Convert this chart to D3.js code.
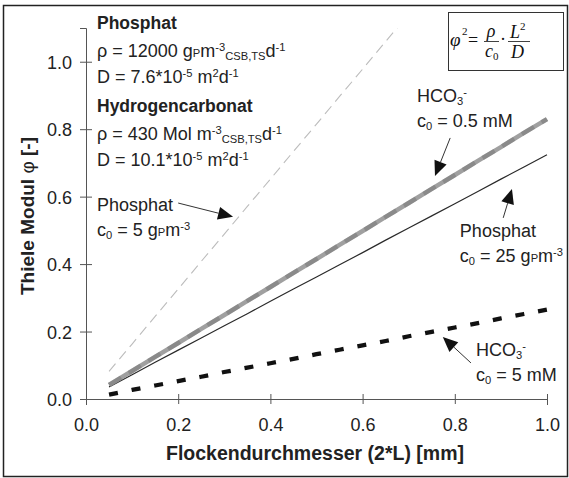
<!DOCTYPE html>
<html>
<head>
<meta charset="utf-8">
<script src="https://cdn.jsdelivr.net/npm/d3@7"></script>
<style>
  html, body { margin: 0; padding: 0; background: #fff; }
  svg { display: block; font-family: "Liberation Sans", Arial, sans-serif; }
</style>
</head>
<body>
<svg id="chart" width="569" height="478"></svg>
<script>
// Floc diameter (2*L) in mm
const diameter = [0.05, 0.10, 0.15, 0.20, 0.25, 0.30, 0.35, 0.40, 0.45, 0.50,
                  0.55, 0.60, 0.65, 0.70, 0.75, 0.80, 0.85, 0.90, 0.95, 1.00];

// Thiele modulus per case
const phosphat5 = [0.082, 0.163, 0.245, 0.326, 0.408, 0.489, 0.571, 0.652, 0.734, 0.815,
                   0.897, 0.978, 1.060, 1.141];
const hco3_05   = [0.042, 0.083, 0.125, 0.166, 0.208, 0.249, 0.291, 0.332, 0.374, 0.415,
                   0.457, 0.498, 0.540, 0.581, 0.623, 0.664, 0.706, 0.747, 0.789, 0.830];
const phosphat25 = [0.036, 0.072, 0.109, 0.145, 0.181, 0.217, 0.253, 0.290, 0.326, 0.362,
                    0.398, 0.434, 0.471, 0.507, 0.543, 0.579, 0.615, 0.652, 0.688, 0.724];
const hco3_5    = [0.013, 0.027, 0.040, 0.053, 0.066, 0.080, 0.093, 0.106, 0.119, 0.133,
                   0.146, 0.159, 0.172, 0.186, 0.199, 0.212, 0.225, 0.239, 0.252, 0.265];

const xTicks = [0, 0.2, 0.4, 0.6, 0.8, 1.0];
const yTicks = [0, 0.2, 0.4, 0.6, 0.8, 1.0];

const svg = d3.select("#chart");
const x = d3.scaleLinear().domain([0, 1]).range([86, 547]);
const y = d3.scaleLinear().domain([0, 1.1]).range([399, 28]);
const fmt = d3.format(".1f");

// outer frame
svg.append("rect").attr("x", 3.5).attr("y", 5.5).attr("width", 564).attr("height", 471)
  .attr("fill", "none").attr("stroke", "#222").attr("stroke-width", 1.5);

// clip to plotting area
svg.append("defs").append("clipPath").attr("id", "plot")
  .append("rect").attr("x", x(0)).attr("y", y(1.1)).attr("width", x(1) - x(0) + 10).attr("height", y(0) - y(1.1));

// axes
const yAxis = svg.append("g").attr("transform", `translate(${x(0)},0)`)
  .call(d3.axisLeft(y).tickValues(yTicks).tickFormat(fmt).tickSizeOuter(0).tickSize(6).tickPadding(8));
const xAxis = svg.append("g").attr("transform", `translate(0,${y(0)})`)
  .call(d3.axisBottom(x).tickValues(xTicks).tickFormat(fmt).tickSizeOuter(0).tickSize(6).tickPadding(13));
[yAxis, xAxis].forEach(g => {
  g.selectAll(".domain").attr("stroke", "#555").attr("stroke-width", 1);
  g.selectAll(".tick line").attr("stroke", "#555");
  g.selectAll(".tick text").attr("fill", "#222").style("font-size", "18px")
    .style("font-family", "'Liberation Sans', Arial, sans-serif");
});
yAxis.selectAll(".tick line").attr("x1", 6).attr("x2", -6);
yAxis.selectAll(".tick text").attr("dy", "0.36em");
xAxis.selectAll(".tick line").attr("y1", -5).attr("y2", 5);

// axis titles
svg.append("text").attr("x", 315).attr("y", 460).attr("text-anchor", "middle")
  .style("font-size", "19.5px").style("font-weight", "bold").attr("fill", "#222")
  .text("Flockendurchmesser (2*L) [mm]");
const yt = svg.append("text").attr("transform", "translate(34,216) rotate(-90)")
  .attr("text-anchor", "middle").style("font-size", "19px").style("font-weight", "bold").attr("fill", "#222");
yt.append("tspan").text("Thiele Modul  ");
yt.append("tspan").style("font-weight", "normal").text("φ");
yt.append("tspan").text(" [-]");

// series lines
const line = d3.line().x(d => x(d[0])).y(d => y(d[1]));
const pts = vals => vals.map((v, i) => [diameter[i], v]);
const plot = svg.append("g").attr("clip-path", "url(#plot)");

plot.append("path").attr("d", line(pts(phosphat5)))
  .attr("fill", "none").attr("stroke", "#bcbcbc").attr("stroke-width", 1.1).attr("stroke-dasharray", "10,6");
plot.append("path").attr("d", line(pts(phosphat25)))
  .attr("fill", "none").attr("stroke", "#2a2a2a").attr("stroke-width", 1.2);
plot.append("path").attr("d", line(pts(hco3_05)))
  .attr("fill", "none").attr("stroke", "#a0a0a0").attr("stroke-width", 4.5);
plot.append("path").attr("d", line(pts(hco3_05)))
  .attr("fill", "none").attr("stroke", "#6e6e6e").attr("stroke-width", 4.5).attr("stroke-opacity", 0.45)
  .attr("stroke-dasharray", "14,9");
plot.append("path").attr("d", line(pts(hco3_5)))
  .attr("fill", "none").attr("stroke", "#111").attr("stroke-width", 4.3).attr("stroke-dasharray", "9,14");

// helper for rich text lines
function rich(g, px, py, parts, size, weight) {
  const t = g.append("text").attr("x", px).attr("y", py).attr("fill", "#222")
    .style("font-size", size + "px").style("font-weight", weight || "normal");
  parts.forEach(p => {
    const s = typeof p === "string" ? { t: p } : p;
    const ts = t.append("tspan").text(s.t);
    if (s.sup) ts.style("font-size", (size * 0.62) + "px").attr("baseline-shift", "55%");
    if (s.sub) ts.style("font-size", (size * 0.62) + "px").attr("baseline-shift", "-25%");
    if (s.small) ts.style("font-size", (size * 0.62) + "px");
  });
  return t;
}

// parameter block
const info = svg.append("g");
rich(info, 97, 29, ["Phosphat"], 17.5, "bold");
rich(info, 97, 57, ["ρ = 12000 g", { t: "P", small: 1 }, "m", { t: "-3", sup: 1 }, { t: "CSB,TS", sub: 1 }, "d", { t: "-1", sup: 1 }], 18);
rich(info, 97, 83, ["D = 7.6*10", { t: "-5", sup: 1 }, " m", { t: "2", sup: 1 }, "d", { t: "-1", sup: 1 }], 18);
rich(info, 97, 112, ["Hydrogencarbonat"], 17.5, "bold");
rich(info, 97, 140, ["ρ = 430 Mol m", { t: "-3", sup: 1 }, { t: "CSB,TS", sub: 1 }, "d", { t: "-1", sup: 1 }], 18);
rich(info, 97, 166, ["D = 10.1*10", { t: "-5", sup: 1 }, " m", { t: "2", sup: 1 }, "d", { t: "-1", sup: 1 }], 18);

// series labels (anchored in data units)
const labels = [
  { d: 0.024, v: 0.557, rows: [["Phosphat"], ["c", { t: "0", sub: 1 }, " = 5 g", { t: "P", small: 1 }, "m", { t: "-3", sup: 1 }]] },
  { d: 0.718, v: 0.881, rows: [["HCO", { t: "3", sub: 1 }, { t: "-", sup: 1 }], ["c", { t: "0", sub: 1 }, " = 0.5 mM"]] },
  { d: 0.811, v: 0.480, rows: [["Phosphat"], ["c", { t: "0", sub: 1 }, " = 25 g", { t: "P", small: 1 }, "m", { t: "-3", sup: 1 }]] },
  { d: 0.846, v: 0.127, rows: [["HCO", { t: "3", sub: 1 }, { t: "-", sup: 1 }], ["c", { t: "0", sub: 1 }, " = 5 mM"]] }
];
const lab = svg.append("g");
labels.forEach(l => {
  l.rows.forEach((r, i) => rich(lab, x(l.d), y(l.v) + i * 25, r, 18));
});

// annotation arrows: tail -> tip in data units
const arrows = [
  { from: [0.200, 0.581], to: [0.319, 0.540] },
  { from: [0.790, 0.774], to: [0.757, 0.661] },
  { from: [0.905, 0.537], to: [0.924, 0.623] },
  { from: [0.835, 0.107], to: [0.774, 0.184] }
];
const ag = svg.append("g");
arrows.forEach(a => {
  const x1 = x(a.from[0]), y1 = y(a.from[1]), x2 = x(a.to[0]), y2 = y(a.to[1]);
  const ang = Math.atan2(y2 - y1, x2 - x1);
  const len = 15, half = 6.5;
  const bx = x2 - len * Math.cos(ang), by = y2 - len * Math.sin(ang);
  ag.append("line").attr("x1", x1).attr("y1", y1).attr("x2", bx).attr("y2", by)
    .attr("stroke", "#333").attr("stroke-width", 1);
  const p = [[x2, y2],
    [bx + half * Math.sin(ang), by - half * Math.cos(ang)],
    [bx - half * Math.sin(ang), by + half * Math.cos(ang)]];
  ag.append("polygon").attr("points", p.map(q => q.join(",")).join(" ")).attr("fill", "#111");
});

// formula box
const fb = svg.append("g").style("font-family", "'Liberation Serif', 'Times New Roman', serif")
  .style("font-style", "italic").attr("fill", "#111");
fb.append("rect").attr("x", 448.5).attr("y", 12.5).attr("width", 115).attr("height", 58)
  .attr("fill", "#fff").attr("stroke", "#333").attr("stroke-width", 1);
fb.append("text").attr("x", 450).attr("y", 46).style("font-size", "19px").text("φ");
fb.append("text").attr("x", 462).attr("y", 35).style("font-size", "11px").style("font-style", "normal").text("2");
fb.append("text").attr("x", 468).attr("y", 46).style("font-size", "18px").style("font-style", "normal").text("=");
fb.append("text").attr("x", 491).attr("y", 37).attr("text-anchor", "middle").style("font-size", "18px").text("ρ");
fb.append("line").attr("x1", 484).attr("x2", 499).attr("y1", 41.5).attr("y2", 41.5).attr("stroke", "#111").attr("stroke-width", 0.8);
const c0 = fb.append("text").attr("x", 485).attr("y", 57).style("font-size", "18px");
c0.append("tspan").text("c");
c0.append("tspan").style("font-size", "11px").style("font-style", "normal").attr("dy", 3).text("0");
fb.append("text").attr("x", 500).attr("y", 45).style("font-size", "18px").style("font-style", "normal").text("·");
const l2 = fb.append("text").attr("x", 510).attr("y", 38).style("font-size", "18px");
l2.append("tspan").text("L");
l2.append("tspan").style("font-size", "11px").style("font-style", "normal").attr("dy", -8).text("2");
fb.append("line").attr("x1", 508).attr("x2", 530).attr("y1", 41.5).attr("y2", 41.5).attr("stroke", "#111").attr("stroke-width", 0.8);
fb.append("text").attr("x", 511).attr("y", 58).style("font-size", "18px").text("D");
</script>
</body>
</html>
